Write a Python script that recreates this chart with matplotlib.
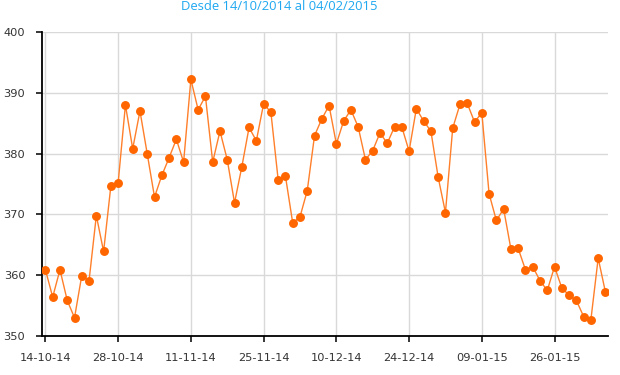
import matplotlib.pyplot as plt

# cotizacion diaria (sesiones) desde 14/10/2014 al 04/02/2015
values = [360.9, 356.4, 360.9, 355.85, 353.0, 359.95, 359.1, 369.8, 363.9, 374.7,
          375.2, 388.0, 380.8, 387.0, 379.95, 372.85, 376.4, 379.3, 382.35, 378.6,
          392.2, 387.2, 389.45, 378.6, 383.7, 379.0, 371.9, 377.8, 384.3, 382.1,
          388.2, 386.8, 375.7, 376.3, 368.6, 369.6, 373.9, 382.95, 385.7, 387.9,
          381.6, 385.35, 387.2, 384.4, 379.0, 380.5, 383.4, 381.7, 384.4, 384.4,
          380.4, 387.4, 385.35, 383.7, 376.1, 370.3, 384.2, 388.1, 388.25, 385.2,
          386.7, 373.4, 369.0, 370.9, 364.3, 364.4, 360.9, 361.4, 359.1, 357.5,
          361.4, 357.9, 356.7, 355.85, 353.2, 352.7, 362.8, 357.2]
tick_pos = [0, 10, 20, 30, 40, 50, 60, 70]
tick_labels = ['14-10-14', '28-10-14', '11-11-14', '25-11-14',
               '10-12-14', '24-12-14', '09-01-15', '26-01-15']
y_ticks = [350, 360, 370, 380, 390, 400]

fig = plt.figure(figsize=(6.2, 3.75), dpi=100)
ax = fig.add_axes([42 / 620, 39 / 375, 566 / 620, 304 / 375])

ax.plot(range(len(values)), values, color='#ff7f2a', lw=1.0, zorder=2)
ax.plot(range(len(values)), values, 'o', color='#ff6600', ms=5.4,
        mec='#ff6600', zorder=3)

ax.set_xlim(-0.47, 77.35)
ax.set_ylim(350, 400)
ax.set_xticks(tick_pos)
ax.set_xticklabels(tick_labels)
ax.set_yticks(y_ticks)
ax.grid(True, color='#d9d9d9', lw=1)
ax.set_axisbelow(True)

for s in ['top', 'right']:
    ax.spines[s].set_visible(False)
for s in ['left', 'bottom']:
    ax.spines[s].set_linewidth(1.3)
ax.tick_params(length=4, width=1.1, labelsize=8.2, labelcolor='#333333')
ax.tick_params(axis='x', pad=8)
ax.tick_params(axis='y', pad=8)

# subtitulo (el titulo principal queda fuera del recorte)
fig.text(279 / 620, 1 - 9.5 / 375, 'Desde 14/10/2014 al 04/02/2015',
         color='#1fa8f0', fontsize=9.4, family='Open Sans',
         ha='center', va='baseline')

fig.savefig('out.png', dpi=100)
